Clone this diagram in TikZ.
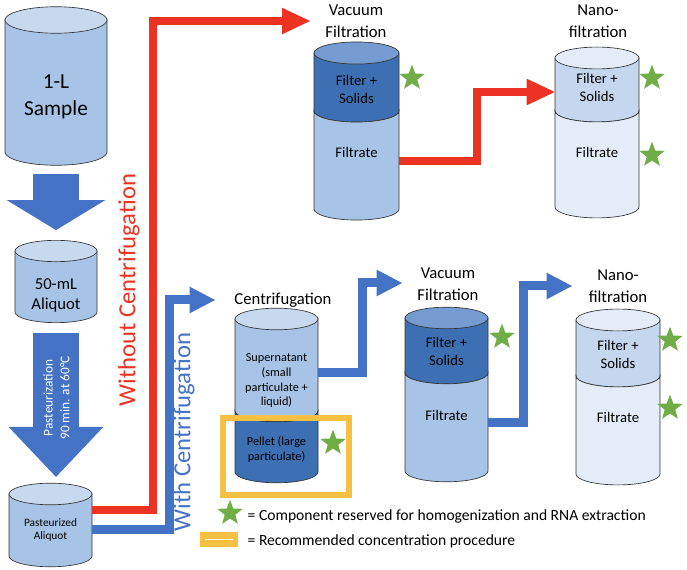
\documentclass[tikz,border=0pt]{standalone}
\usepackage{fontspec}
\setmainfont{Carlito}
\usepackage{xcolor}
\usepackage{tikz}
\usetikzlibrary{shapes.geometric, arrows.meta, positioning, calc, fit}
\definecolor{flowred}{RGB}{236,51,35}
\definecolor{flowblue}{RGB}{68,114,196}
\definecolor{tanklight}{RGB}{167,196,230}
\definecolor{tanklighttop}{RGB}{199,217,239}
\definecolor{tankdark}{RGB}{61,112,179}
\definecolor{tankdarktop}{RGB}{117,155,208}
\definecolor{nanomid}{RGB}{196,215,239}
\definecolor{nanolight}{RGB}{227,236,248}
\definecolor{stargreen}{RGB}{112,173,71}
\definecolor{pickyellow}{RGB}{246,192,66}
\tikzstyle{tankline} = [draw=black!80, line width=0.5pt]
\tikzstyle{big} = [align=center, font=\fontsize{16}{20}\selectfont]
\tikzstyle{mid} = [align=center, font=\fontsize{12.5}{15}\selectfont]
\tikzstyle{small} = [align=center, font=\fontsize{8.5}{10}\selectfont]
\tikzstyle{head} = [align=center, font=\fontsize{12.5}{16.5}\selectfont]
\tikzstyle{inside} = [align=center, font=\fontsize{11}{13.5}\selectfont]
\tikzstyle{fine} = [align=center, font=\fontsize{9.2}{11}\selectfont]
\tikzstyle{keep} = [star, star points=5, star point ratio=2.4, fill=stargreen, inner sep=0pt, minimum size=20pt]
\tikzstyle{redflow} = [line width=6pt, draw=flowred, line join=miter, -{Triangle[width=20pt, length=21pt, line width=0pt]}]
\tikzstyle{blueflow} = [line width=6.75pt, draw=flowblue, line join=miter, -{Triangle[width=20pt, length=19pt, line width=0pt]}]
% plain tank: name, cx, rx, ytop, ybot, body, top
\newcommand{\tank}[7]{%
  \pgfmathsetmacro{\tankry}{0.26*#3}
  \filldraw[tankline, fill=#6] ({#2+#3},#4) -- ({#2+#3},#5) arc[start angle=0, end angle=180, x radius=#3, y radius=\tankry] -- ({#2-#3},#4) -- cycle;
  \filldraw[tankline, fill=#7] (#2,#4) ellipse[x radius=#3, y radius=\tankry];
  \node[fit={({#2-#3},{#4-\tankry}) ({#2+#3},{#5+\tankry})}, inner sep=0pt] (#1) {};
}
% two-part tank: name, cx, rx, ytop, ydiv, ybot, upper, lower, top
\newcommand{\tanktwo}[9]{%
  \pgfmathsetmacro{\tankry}{0.26*#3}
  \filldraw[tankline, fill=#7] ({#2+#3},#4) -- ({#2+#3},#5) arc[start angle=0, end angle=180, x radius=#3, y radius=\tankry] -- ({#2-#3},#4) -- cycle;
  \filldraw[tankline, fill=#8] ({#2+#3},#5) -- ({#2+#3},#6) arc[start angle=0, end angle=180, x radius=#3, y radius=\tankry] -- ({#2-#3},#5) arc[start angle=180, end angle=0, x radius=#3, y radius=\tankry] -- cycle;
  \filldraw[tankline, fill=#9] (#2,#4) ellipse[x radius=#3, y radius=\tankry];
  \node[fit={({#2-#3},{#4-\tankry}) ({#2+#3},{#6+\tankry})}, inner sep=0pt] (#1) {};
}

\begin{document}
\begin{tikzpicture}[x=0.75pt, y=-0.75pt]
      \useasboundingbox (0,0) rectangle (687,570);

      % Left column
      \tank{sample}{56}{51}{20}{152}{tanklight}{tanklighttop}
      \node[big] (sampletxt) at (56,97) {1-L\\Sample};
      \tank{aliquot}{56}{41}{251}{312}{tanklight}{tanklighttop}
      \node[mid] (aliquottxt) at (56,295) {50-mL\\Aliquot};
      \tank{pa}{50.5}{41.5}{494}{556}{tanklight}{tanklighttop}
      \node[small] (patxt) at (50.5,530) {Pasteurized\\Aliquot};

      \draw[flowblue, line width=35pt, shorten <=6pt, shorten >=7.5pt, -{Triangle[width=74pt, length=22.5pt, line width=0pt]}] (sample.south) -- (aliquot.north);
      \draw[flowblue, line width=35pt, shorten <=7.5pt, shorten >=4.5pt, -{Triangle[width=71pt, length=37.5pt, line width=0pt]}] (aliquot.south) -- (aliquot.south |- pa.north);
      \node[rotate=90, align=center, text=white, font=\fontsize{10}{12.5}\selectfont] (pastxt) at (56.5,398) {Pasteurization\\90 min. at 60°C};

      % Without centrifugation
      \tanktwo{vf1}{356.5}{42.5}{53}{111}{209}{tankdark}{tanklight}{tankdarktop}
      \node[head] (vf1lab) at (356,21) {Vacuum\\Filtration};
      \node[inside] (vf1top) at (356.5,89) {Filter +\\Solids};
      \node[inside] (vf1low) at (356.5,152) {Filtrate};
      \tanktwo{nf1}{597}{42}{58}{111}{207}{nanomid}{nanolight}{nanolight}
      \node[head] (nf1lab) at (598,21) {Nano-\\filtration};
      \node[inside] (nf1top) at (597,87.5) {Filter +\\Solids};
      \node[inside] (nf1low) at (597,152) {Filtrate};

      % With centrifugation
      \tanktwo{cf}{276.5}{41.5}{319}{411}{472}{tanklight}{tankdark}{tanklighttop}
      \node[head] (cflab) at (283,300) {Centrifugation};
      \node[fine] (cftop) at (276.5,381) {Supernatant\\(small\\particulate +\\liquid)};
      \node[fine] (cflow) at (276.5,449.5) {Pellet (large\\particulate)};
      \tanktwo{vf2}{446.5}{41.5}{318}{373}{471}{tankdark}{tanklight}{tankdarktop}
      \node[head] (vf2lab) at (448,284) {Vacuum\\Filtration};
      \node[inside] (vf2top) at (446.5,351) {Filter +\\Solids};
      \node[inside] (vf2low) at (446.5,415) {Filtrate};
      \tanktwo{nf2}{618}{42}{320}{376}{474}{nanomid}{nanolight}{nanolight}
      \node[head] (nf2lab) at (618,286) {Nano-\\filtration};
      \node[inside] (nf2top) at (618,354) {Filter +\\Solids};
      \node[inside] (nf2low) at (618,417) {Filtrate};

      % Flow arrows
      \coordinate (vf1in) at (310,21);
      \coordinate (cfin) at (215,300);
      \coordinate (vf2in) at (402,283);
      \coordinate (nf2in) at (572,286);
      \draw[redflow] (pa.east |- 0,510) -| (153,21) -- (vf1in);
      \draw[redflow] (vf1.east |- 0,161) -| (477,92) -- (nf1.west |- 0,92);
      \draw[blueflow] (pa.east |- 0,530) -| (169,300) -- (cfin);
      \draw[blueflow] (cf.east |- 0,373) -| (362,283) -- (vf2in);
      \draw[blueflow] (vf2.east |- 0,423) -| (523,286) -- (nf2in);
      \node[rotate=90, text=flowred, font=\fontsize{18.5}{22}\selectfont] (withoutlab) at (129,290) {Without Centrifugation};
      \node[rotate=90, text=flowblue, font=\fontsize{18.5}{22}\selectfont] (withlab) at (184,432) {With Centrifugation};

      % Reserved parts
      \node[keep] (s1) at (412,78) {};
      \node[keep] (s2) at (652,78) {};
      \node[keep] (s3) at (652,155) {};
      \node[keep] (s4) at (333,443) {};
      \node[keep] (s5) at (502,337) {};
      \node[keep] (s6) at (670,340) {};
      \node[keep] (s7) at (670,408) {};
      \node[draw=pickyellow, line width=4.5pt, inner sep=0pt, fit={(223,418) (349,495)}] (pickbox) {};

      % Legend
      \node[keep] (s8) at (230,513) {};
      \node[anchor=west, font=\fontsize{11.7}{14}\selectfont] (keeptxt) at (243,516) {= Component reserved for homogenization and RNA extraction};
      \node[fill=pickyellow, minimum width=28.5pt, minimum height=11.25pt, inner sep=0pt] (pickkey) at (219,539.5) {};
      \draw[white, line width=1.2pt] ([xshift=4pt]pickkey.west) -- ([xshift=-4pt]pickkey.east);
      \node[anchor=west, font=\fontsize{11.7}{14}\selectfont] (picktxt) at (243,541) {= Recommended concentration procedure};
    \end{tikzpicture}
\end{document}
